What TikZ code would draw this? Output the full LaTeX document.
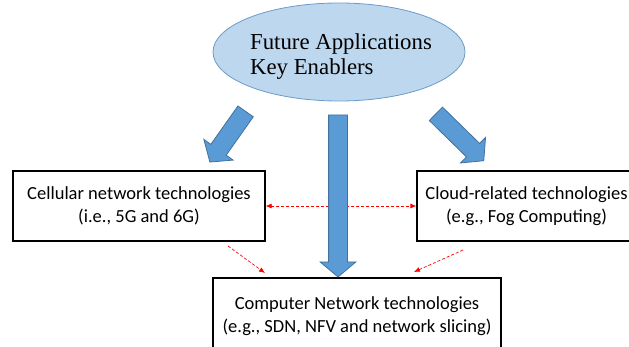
\documentclass[tikz,border=0pt]{standalone}
\usepackage{fontspec}
\setmainfont{Liberation Serif}
\newfontfamily\boxfont{Carlito}
\usepackage{tikz}
\usetikzlibrary{arrows.meta,shapes.geometric,shapes.arrows}
\definecolor{arrowblue}{HTML}{5B9BD5}
\definecolor{arrowedge}{HTML}{41719C}
\definecolor{ellfill}{HTML}{BDD7EE}
\definecolor{elledge}{HTML}{6D9BC8}

\begin{document}
\begin{tikzpicture}[x=1pt,y=-1pt,
  techbox/.style={draw,line width=1.2pt,rectangle,inner sep=0pt,align=center,font=\boxfont\fontsize{18.5}{23}\selectfont},
  bigarrow/.style={single arrow,draw=arrowedge,fill=arrowblue,line width=0.8pt,inner xsep=0pt,inner ysep=9pt,single arrow head extend=8.5pt,single arrow tip angle=100,sloped,allow upside down,midway},
  link/.style={red,dash pattern=on 3pt off 2pt,line width=0.7pt,>={Latex[length=6pt,width=5pt]}}] % enablers feeding the three technology groups
  \clip (0,0) rectangle (629,347);
  \node[ellipse,draw=elledge,fill=ellfill,line width=0.8pt,minimum width=252pt,minimum height=98pt] (enablers) at (339,52) {};
  \node[align=left,font=\fontsize{22.8}{25}\selectfont] (enablerstext) at (341,57) {Future Applications\\Key Enablers};
  \node[techbox,minimum width=252pt,minimum height=70pt] (cellular) at (139,206) {Cellular network technologies\\(i.e., 5G and 6G)};
  \node[techbox,minimum width=219pt,minimum height=70pt] (cloud) at (526.5,206) {Cloud-related technologies\\(e.g., Fog Computing)};
  \node[techbox,minimum width=288pt,minimum height=76pt] (compnet) at (357,316) {Computer Network technologies\\(e.g., SDN, NFV and network slicing)};
  \draw[link,<->] (cellular) -- (cloud);
  \coordinate (cellfoot) at (228,246);
  \coordinate (cellend) at (265,273);
  \coordinate (cloudfoot) at (463,250);
  \coordinate (cloudend) at (414,272);
  \draw[link,->] (cellfoot) -- (cellend);
  \draw[link,->] (cloudfoot) -- (cloudend);
  \coordinate (midtop) at (338,111);
  \coordinate (midtip) at (338,273);
  \coordinate (lefttop) at (248,108);
  \coordinate (lefttip) at (212,159);
  \coordinate (righttop) at (433,111);
  \coordinate (righttip) at (481,158);
  \path (midtop) -- (midtip) node[bigarrow,minimum height=162pt] (midarrow) {};
  \path (lefttop) -- (lefttip) node[bigarrow,minimum height=62pt] (leftarrow) {};
  \path (righttop) -- (righttip) node[bigarrow,minimum height=67pt] (rightarrow) {};
\end{tikzpicture}
\end{document}
